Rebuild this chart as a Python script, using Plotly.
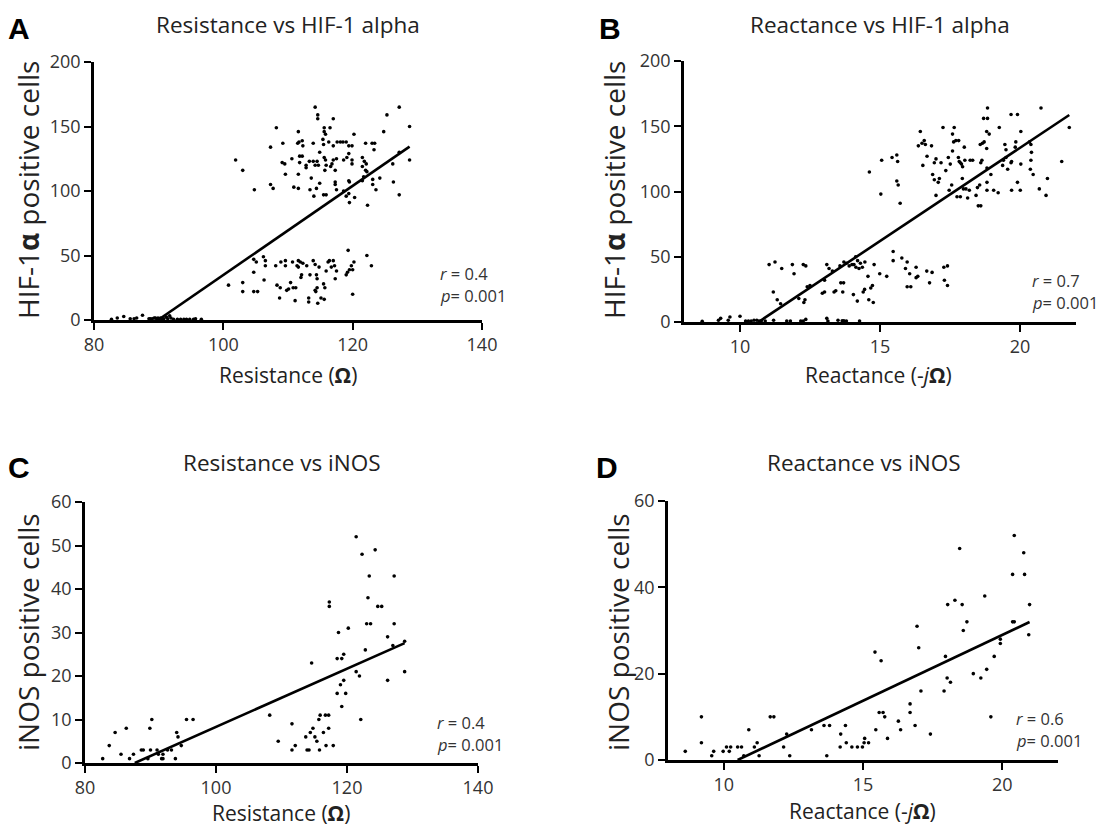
import plotly.graph_objects as go

# ---------------- data ----------------
# Panel A: Resistance vs HIF-1 alpha
a_x = [82.7, 83.6, 84.6, 85.6, 86.2, 86.6, 87.5, 88.5, 88.7, 89.0, 89.3, 89.5, 89.7, 89.9, 90.3, 90.5, 90.8, 91.2, 91.4, 91.7,
       91.9, 92.3, 92.9, 93.4, 93.9, 94.3, 94.8, 95.4, 95.7, 96.6,
       100.8, 103.0, 103.0, 104.7, 105.1, 104.7, 104.7, 105.3, 106.2, 106.5, 106.3, 106.5, 108.1, 108.3, 108.7, 108.8, 108.9,
       109.6, 109.6, 109.8, 110.1, 110.4, 110.7, 110.8, 111.2, 111.1, 111.4, 111.6, 111.6, 111.9, 112.0, 112.1, 112.3, 112.9,
       113.2, 113.2, 113.4, 113.9, 114.2, 114.4, 114.5, 114.5, 114.3, 114.6, 114.8, 114.2, 115.5, 115.7, 115.1, 115.6, 115.9,
       116.2, 116.4, 116.7, 117.0, 117.2, 117.3, 117.5, 119.0, 119.2, 119.3, 119.5, 119.8, 120.0, 120.0, 120.2, 122.2, 122.9,
       114.2, 114.6, 114.6, 117.0, 108.2, 111.6, 115.6, 116.5, 115.6, 115.8, 120.2, 124.8, 125.3, 127.2, 107.3, 109.2, 111.5,
       111.7, 112.2, 112.3, 113.9, 115.4, 115.5, 116.3, 117.0, 117.6, 118.1, 118.5, 119.0, 119.4, 119.9, 122.0, 123.0, 123.4,
       123.3, 114.9, 109.1, 109.5, 110.6, 111.8, 112.2, 111.8, 112.8, 112.8, 113.3, 113.9, 114.5, 114.2, 114.7, 115.6, 115.8,
       115.9, 116.8, 117.0, 117.5, 116.6, 115.7, 117.3, 118.6, 119.1, 119.4, 119.9, 119.9, 121.5, 121.8, 122.1, 121.5, 122.0,
       126.2, 101.9, 103.0, 104.8, 107.3, 107.7, 109.6, 111.6, 110.9, 111.6, 113.6, 113.4, 114.4, 114.9, 114.0, 115.5, 115.9,
       117.3, 117.3, 117.5, 118.6, 119.4, 119.5, 119.4, 119.0, 119.5, 120.3, 121.5, 121.7, 122.2, 123.1, 123.1, 123.6, 122.3,
       124.2, 126.3, 127.2, 128.8, 128.8, 127.2]
a_y = [0.5, 1.6, 2.7, 1, 1, 1.6, 3.7, 1, 1, 1, 1.6, 1.6, 1, 1.6, 1.6, 1, 1, 2.2, 1, 3.2,
       1.6, 0.5, 0.5, 0.5, 0.5, 0.5, 0.5, 0.5, 1, 0.5,
       27, 29, 22, 47, 45, 37, 22, 22, 49, 46, 31, 42, 42, 27, 17, 25, 45,
       46, 42, 23, 24, 29, 45, 25, 25, 15, 42, 41, 46, 45, 33, 35, 44, 42,
       17, 14, 35, 46, 43, 35, 32, 25, 22, 13, 41, 23, 28, 25, 17, 16, 38,
       45, 46, 41, 46, 42, 32, 38, 35, 37, 54, 39, 42, 39, 20, 45, 50, 42,
       165, 159, 156, 156, 149, 146, 149, 149, 146, 144, 144, 146, 159, 165, 134, 137, 137,
       138, 139, 135, 137, 140, 136, 138, 135, 138, 138, 138, 138, 135, 135, 137, 137, 137,
       132, 130, 122, 121, 125, 127, 127, 122, 120, 118, 123, 123, 123, 120, 120, 126, 124,
       120, 121, 124, 125, 119, 116, 116, 124, 126, 129, 124, 121, 126, 123, 121, 119, 116,
       121, 124, 116, 101, 105, 102, 113, 113, 103, 102, 110, 101, 102, 106, 96, 97, 97,
       107, 105, 101, 100, 108, 107, 98, 96, 91, 95, 108, 111, 115, 109, 105, 101, 89,
       110, 107, 97, 150, 124, 130]

# Panel B: Reactance vs HIF-1 alpha
b_x = [8.65, 9.23, 9.31, 9.58, 9.64, 10.0, 10.2, 10.3, 10.4, 10.5, 10.6, 10.68, 10.76, 10.9, 11.2, 11.67, 11.8, 12.17,
       12.26, 12.35, 13.1, 13.14, 13.5, 13.65, 13.71, 13.8, 14.27,
       11.04, 11.25, 11.19, 11.33, 11.49, 11.45, 11.87, 11.93, 12.26, 12.35, 12.1, 12.32, 12.28, 12.4, 12.5, 13.02, 13.1,
       13.18, 12.94, 13.02, 13.36, 13.42, 13.3, 13.6, 13.7, 13.57, 13.67, 13.71, 13.8, 13.9, 14.0, 14.07, 14.13, 14.2, 14.05,
       14.14, 14.25, 14.19, 14.3, 14.37, 14.46, 14.4, 14.45, 14.57, 14.67, 14.73, 14.6, 14.76, 14.79, 14.99, 15.24, 15.47,
       15.47, 15.78, 15.97, 15.91, 16.06, 15.97, 16.1, 16.29, 16.29, 16.35, 16.67, 16.77, 16.86, 17.28, 17.41, 17.3, 17.41,
       14.62, 15.06, 15.03, 15.43, 15.6, 15.63, 15.6, 15.65, 15.72, 16.44, 16.37, 16.5, 16.58, 16.62, 16.84, 16.68, 16.53,
       17.0, 16.94, 17.18, 17.25, 16.88, 16.94, 17.08, 17.12, 17.0, 17.35, 17.44, 17.51, 17.59, 17.65, 17.63, 17.71, 17.81,
       17.59, 17.8, 17.83, 17.87, 17.91, 17.95, 18.01, 18.03, 18.22, 18.31, 17.94, 17.56, 17.47, 17.75, 17.87, 17.98, 18.07,
       18.19, 18.13, 18.43, 18.51, 18.6, 18.48, 18.56, 18.58, 18.66, 18.72, 18.81, 18.9, 18.81, 18.64, 18.6, 18.7, 18.84,
       18.84, 18.82, 18.96, 18.82, 18.82, 19.06, 19.22, 19.26, 19.46, 19.5, 19.41, 19.5, 19.38, 19.56, 19.68, 19.91, 19.68,
       19.7, 19.7, 19.85, 19.83, 19.91, 20.01, 20.03, 20.03, 20.34, 20.39, 20.41, 20.39, 20.37, 20.47, 20.75, 20.69, 20.98,
       20.93, 21.49, 21.76]
b_y = [0.5, 1.3, 2.8, 1.3, 3.8, 4.4, 0.8, 0.8, 0.8, 1.3, 1.3, 0.8, 0.8, 0.8, 1.3, 0.8, 0.8, 0.8,
       0.8, 2, 2.8, 0.8, 1.3, 1, 1, 0.8, 0.8,
       44, 46, 23, 17, 41, 14, 44, 37, 44, 43, 18, 17, 15, 27, 28, 32, 44,
       41, 22, 23, 23, 24, 39, 30, 30, 43, 23, 46, 45, 43, 44, 44, 50, 47, 21,
       42, 41, 16, 45, 42, 46, 23, 25, 35, 26, 28, 17, 15, 44, 37, 35, 54,
       47, 49, 46, 41, 37, 27, 27, 42, 34, 35, 39, 30, 38, 42, 43, 32, 28,
       115, 124, 98, 126, 128, 123, 108, 105, 91, 146, 135, 137, 139, 136, 135, 127, 120,
       125, 122, 122, 149, 113, 109, 107, 110, 97, 116, 126, 121, 144, 149, 138, 139, 139,
       131, 126, 123, 122, 121, 119, 134, 124, 124, 124, 110, 105, 101, 96, 96, 102, 102,
       101, 95, 97, 89, 89, 103, 105, 136, 137, 138, 146, 144, 133, 124, 122, 156, 156,
       164, 118, 113, 107, 101, 101, 99, 149, 136, 132, 124, 126, 120, 117, 159, 159, 122,
       123, 101, 138, 134, 107, 101, 146, 121, 138, 136, 130, 124, 117, 113, 164, 102, 110,
       97, 123, 149]

# Panel C: Resistance vs iNOS
c_x = [82.7, 83.7, 84.6, 85.5, 86.3, 86.8, 87.4, 88.6, 88.9, 89.6, 89.9, 90.2, 90.0, 91.0, 91.2, 91.7, 91.9, 91.9, 92.6,
       93.2, 93.8, 94.0, 94.2, 94.7, 95.5, 96.5, 108.2, 109.5, 111.6, 111.6, 112.1, 113.7, 113.9, 114.2, 114.4, 114.6,
       114.8, 115.1, 115.4, 115.7, 115.8, 115.9, 116.4, 116.7, 117.2, 116.8, 117.2, 117.3, 117.3, 117.9, 118.5, 118.5,
       118.7, 119.0, 119.2, 119.2, 119.5, 119.5, 119.8, 120.2, 121.4, 121.4, 121.9, 122.1, 122.3, 122.8, 123.0, 123.6,
       123.2, 123.4, 124.3, 124.7, 125.3, 126.2, 126.2, 127.0, 127.2, 127.2, 128.8, 128.8]
c_y = [1, 4, 7, 2, 8, 1, 2, 3, 3, 1, 8, 10, 3, 3, 2, 1, 1, 2, 3,
       3, 1, 7, 6, 4, 10, 10, 11, 5, 9, 3, 4, 6, 3, 3, 7, 23,
       8, 6, 5, 10, 3, 11, 7, 11, 11, 4, 8, 37, 36, 4, 16, 24,
       30, 18, 24, 13, 25, 19, 16, 31, 52, 21, 20, 10, 48, 26, 32, 32,
       38, 43, 49, 36, 36, 19, 29, 27, 43, 32, 28, 21]

# Panel D: Reactance vs iNOS
d_x = [8.62, 9.2, 9.2, 9.57, 9.64, 9.98, 10.1, 10.25, 10.2, 10.5, 10.64, 10.72, 10.9, 11.1, 11.2, 11.27, 11.67, 11.8,
       12.15, 12.26, 12.37, 13.15, 13.6, 13.8, 13.7, 14.18, 14.2, 14.37, 14.4, 14.6, 14.8, 14.98, 15.04, 15.06, 15.2,
       15.43, 15.46, 15.58, 15.72, 15.65, 15.78, 15.88, 16.27, 16.35, 16.69, 16.69, 16.87, 16.94, 17.0, 17.08, 17.42,
       17.91, 17.96, 18.02, 18.04, 18.14, 18.3, 18.47, 18.56, 18.6, 18.73, 18.96, 19.23, 19.37, 19.44, 19.59, 19.71,
       19.93, 19.93, 20.37, 20.37, 20.43, 20.43, 20.77, 20.8, 20.98, 20.95]
d_y = [2, 10, 4, 1, 2, 2, 3, 3, 2, 3, 3, 1, 7, 3, 4, 1, 10, 10,
       3, 6, 1, 7, 8, 8, 1, 3, 6, 8, 4, 3, 3, 3, 4, 5, 4,
       25, 7, 11, 11, 23, 10, 5, 9, 7, 13, 11, 8, 31, 26, 16, 6,
       16, 24, 19, 36, 18, 37, 49, 36, 30, 32, 20, 19, 38, 21, 10, 24,
       28, 27, 43, 32, 32, 52, 48, 43, 36, 29]

# regression lines: slope and x-intercept
fit_slope = {"A": 3.455, "B": 14.29, "C": 0.669, "D": 3.05}
fit_x0 = {"A": 89.9, "B": 10.66, "C": 87.6, "D": 10.5}

titles = {"A": "Resistance vs HIF-1 alpha", "B": "Reactance vs HIF-1 alpha",
          "C": "Resistance vs iNOS", "D": "Reactance vs iNOS"}
x_titles = {"A": "Resistance (<b>Ω</b>)", "B": "Reactance (-<i>j</i><b>Ω</b>)",
            "C": "Resistance (<b>Ω</b>)", "D": "Reactance (-<i>j</i><b>Ω</b>)"}
y_titles = {"A": "HIF-1<b>α</b> positive cells", "B": "HIF-1<b>α</b> positive cells",
            "C": "iNOS positive cells", "D": "iNOS positive cells"}
r_values = {"A": "0.4", "B": "0.7", "C": "0.4", "D": "0.6"}
p_values = {"A": "0.001", "B": "0.001", "C": "0.001", "D": "0.001"}

x_ranges = {"A": [80, 140], "B": [8, 22], "C": [80, 140], "D": [8, 22]}
x_ticks = {"A": [80, 100, 120, 140], "B": [10, 15, 20], "C": [80, 100, 120, 140], "D": [10, 15, 20]}
y_ranges = {"A": [0, 200], "B": [0, 200], "C": [0, 60], "D": [0, 60]}
y_ticks = {"A": [0, 50, 100, 150, 200], "B": [0, 50, 100, 150, 200],
           "C": [0, 10, 20, 30, 40, 50, 60], "D": [0, 20, 40, 60]}

data = {"A": (a_x, a_y), "B": (b_x, b_y), "C": (c_x, c_y), "D": (d_x, d_y)}

# ---------------- layout geometry (page pixels) ----------------
W, H = 1106, 825
OFF = 8  # the page body margin shifts the figure by this much
FONT = "Open Sans"
# plot-area boxes: left, right, top, bottom
boxes = {"A": (94, 482, 62, 320), "B": (684, 1076, 61, 322),
         "C": (85, 478, 502, 763), "D": (668, 1058, 501, 760)}
letter_pos = {"A": (19, 28), "B": (610, 28), "C": (19, 467), "D": (607, 467)}
title_pos = {"A": (288, 24), "B": (880, 24), "C": (282, 462), "D": (864, 462)}
ytitle_pos = {"A": (28, 190), "B": (614, 190), "C": (28, 632), "D": (618, 632)}
xtitle_pos = {"A": (288, 375), "B": (878, 375), "C": (281, 813), "D": (862, 811)}
stat_pos = {"A": (438, 273), "B": (1030, 280), "C": (435, 722), "D": (1014, 718)}


def px(x):
    return (x - OFF) / W


def py(y):
    return 1 - (y - OFF) / H


fig = go.Figure()
annotations = []
layout_axes = {}

for i, key in enumerate(["A", "B", "C", "D"]):
    n = "" if i == 0 else str(i + 1)
    xa, ya = "x" + n, "y" + n
    xs, ys = data[key]
    fig.add_trace(go.Scatter(x=xs, y=ys, mode="markers", xaxis=xa, yaxis=ya,
                             marker=dict(size=3.6, color="black"), cliponaxis=False,
                             showlegend=False, hoverinfo="skip"))
    x0 = max(min(xs), fit_x0[key])
    x1 = max(xs)
    lx = [x0, x1]
    ly = [fit_slope[key] * (v - fit_x0[key]) for v in lx]
    fig.add_trace(go.Scatter(x=lx, y=ly, mode="lines", xaxis=xa, yaxis=ya,
                             line=dict(color="black", width=2.6), showlegend=False,
                             hoverinfo="skip"))
    l, r, t, b = boxes[key]
    common = dict(showline=True, linecolor="black", linewidth=2.5, ticks="outside",
                  ticklen=7, tickwidth=2.2, tickcolor="black", showgrid=False,
                  zeroline=False, automargin=False,
                  tickfont=dict(family=FONT, size=18, color="#333333"))
    layout_axes["xaxis" + n] = dict(domain=[px(l), px(r)], range=x_ranges[key],
                                   tickvals=x_ticks[key], anchor=ya, **common)
    layout_axes["yaxis" + n] = dict(domain=[py(b), py(t)], range=y_ranges[key],
                                   tickvals=y_ticks[key], anchor=xa, **common)

    lxp, lyp = letter_pos[key]
    annotations.append(dict(text="<b>" + key + "</b>", x=px(lxp), y=py(lyp), xref="paper", yref="paper",
                            showarrow=False, xanchor="center", yanchor="middle",
                            font=dict(family="Liberation Sans", size=30, color="black")))
    tx, ty = title_pos[key]
    annotations.append(dict(text=titles[key], x=px(tx), y=py(ty), xref="paper", yref="paper",
                            showarrow=False, xanchor="center", yanchor="middle",
                            font=dict(family=FONT, size=22.5, color="#222222")))
    yx, yy = ytitle_pos[key]
    annotations.append(dict(text=y_titles[key], x=px(yx), y=py(yy), xref="paper", yref="paper",
                            showarrow=False, xanchor="center", yanchor="middle", textangle=-90,
                            font=dict(family=FONT, size=28, color="#222222")))
    xx, xy = xtitle_pos[key]
    annotations.append(dict(text=x_titles[key], x=px(xx), y=py(xy), xref="paper", yref="paper",
                            showarrow=False, xanchor="center", yanchor="middle",
                            font=dict(family=FONT, size=21, color="#222222")))
    sx, sy = stat_pos[key]
    annotations.append(dict(text="<i>r</i> = " + r_values[key], x=px(sx), y=py(sy), xref="paper",
                            yref="paper", showarrow=False, xanchor="left", yanchor="middle",
                            font=dict(family=FONT, size=16.5, color="#333333")))
    annotations.append(dict(text="<i>p</i>= " + p_values[key], x=px(sx), y=py(sy + 22), xref="paper",
                            yref="paper", showarrow=False, xanchor="left", yanchor="middle",
                            font=dict(family=FONT, size=16.5, color="#333333")))

fig.update_layout(template="none", width=W, height=H,
                  margin=dict(l=0, r=0, t=0, b=0, pad=0, autoexpand=False),
                  paper_bgcolor="white", plot_bgcolor="white",
                  annotations=annotations, **layout_axes)

fig.write_html("out.html")
